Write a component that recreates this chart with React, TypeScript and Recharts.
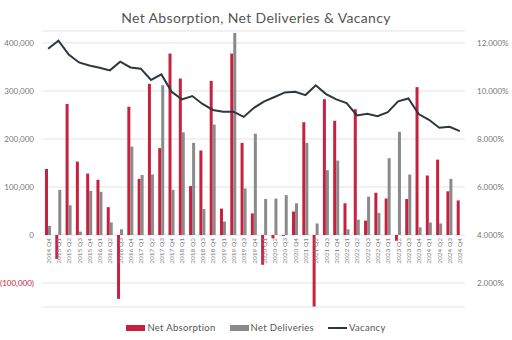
import React from 'react';
import { ComposedChart, Bar, Line, XAxis, YAxis, CartesianGrid } from 'recharts';

const quarters = [
  '2014 Q4',
  '2015 Q1', '2015 Q2', '2015 Q3', '2015 Q4',
  '2016 Q1', '2016 Q2', '2016 Q3', '2016 Q4',
  '2017 Q1', '2017 Q2', '2017 Q3', '2017 Q4',
  '2018 Q1', '2018 Q2', '2018 Q3', '2018 Q4',
  '2019 Q1', '2019 Q2', '2019 Q3', '2019 Q4',
  '2020 Q1', '2020 Q2', '2020 Q3', '2020 Q4',
  '2021 Q1', '2021 Q2', '2021 Q3', '2021 Q4',
  '2022 Q1', '2022 Q2', '2022 Q3', '2022 Q4',
  '2023 Q1', '2023 Q2', '2023 Q3', '2023 Q4',
  '2024 Q1', '2024 Q2', '2024 Q3', '2024 Q4',
];

const netAbsorption = [
  137500,
  -50000, 273000, 153000, 128000,
  115000, 58000, -133000, 267000,
  117000, 315000, 181000, 378000,
  326000, 102000, 176000, 321000,
  55000, 378000, 192000, 45000,
  -62000, -7000, -2000, 49000,
  235000, -149000, 283000, 238000,
  66000, 262000, 30000, 88000,
  76000, -12000, 75000, 308000,
  124000, 157000, 91000, 72000,
];

const netDeliveries = [
  19000,
  94000, 62000, 7000, 92000,
  90000, 26000, 12000, 184000,
  125000, 126000, 312000, 94000,
  214000, 192000, 54000, 230000,
  28000, 421000, 97000, 211000,
  75000, 76000, 83000, 66000,
  192000, 24000, 135000, 155000,
  12000, 32000, 80000, 46000,
  160000, 215000, 126000, 16000,
  26000, 24000, 117000, 0,
];

const vacancy = [
  11.76,
  12.1, 11.52, 11.19, 11.06,
  10.97, 10.86, 11.22, 10.98,
  10.93, 10.46, 10.69, 9.97,
  9.65, 9.79, 9.46, 9.21,
  9.14, 9.14, 8.92, 9.3,
  9.57, 9.75, 9.94, 9.97,
  9.83, 10.24, 9.87, 9.65,
  9.5, 8.98, 9.05, 8.95,
  9.12, 9.57, 9.69, 9.04,
  8.8, 8.47, 8.51, 8.33,
];

const leftTicks = [-100000, 0, 100000, 200000, 300000, 400000];
const rightTicks = [2, 4, 6, 8, 10, 12];

const LEFT_DOMAIN = [-150000, 425000];
const RIGHT_DOMAIN = [1, 12.5];

const W = 512;
const H = 340;
const MARGIN = { top: 31, right: 0, bottom: 32, left: 0 };
const X_AXIS_H = 1;
const PLOT_H = H - MARGIN.top - MARGIN.bottom - X_AXIS_H;
// x labels hang from the zero line, not the plot bottom
const ZERO_Y = MARGIN.top + (PLOT_H * LEFT_DOMAIN[1]) / (LEFT_DOMAIN[1] - LEFT_DOMAIN[0]);

const RED = '#c8203f';
const GRAY = '#8a8a8a';
const LINE = '#2e3740';
const FONT = 'Lato, "Noto Sans", sans-serif';

const data = quarters.map((q, i) => ({
  quarter: q,
  absorption: netAbsorption[i],
  deliveries: netDeliveries[i],
  vacancy: vacancy[i],
}));

const QuarterTick = ({ x, payload }: any) => (
  <text
    transform={`translate(${x + 2.5}, ${ZERO_Y + 3}) rotate(-90)`}
    textAnchor="end"
    fontSize={6.5}
    fill="#808080"
    fontFamily={FONT}
  >
    {payload.value}
  </text>
);

const LeftTick = ({ x, y, payload }: any) => {
  const v = payload.value;
  const neg = v < 0;
  const label = neg ? `(${Math.abs(v).toLocaleString('en-US')})` : v.toLocaleString('en-US');
  return (
    <text x={x} y={y} dy={3} textAnchor="end" fontSize={8} fill={neg ? RED : '#777'} fontFamily={FONT}>
      {label}
    </text>
  );
};

const RightTick = ({ x, y, payload }: any) => (
  <text x={x} y={y} dy={3} textAnchor="start" fontSize={8} fill="#777" fontFamily={FONT}>
    {`${payload.value.toFixed(3)}%`}
  </text>
);

const legendItems = [
  { name: 'Net Absorption', color: RED, type: 'box' },
  { name: 'Net Deliveries', color: GRAY, type: 'box' },
  { name: 'Vacancy', color: LINE, type: 'line' },
];

export default function App() {
  return (
    <div style={{ position: 'absolute', left: 0, top: 0, width: W, height: H, background: '#fff', fontFamily: FONT }}>
      <div
        style={{
          position: 'absolute',
          top: 9,
          left: 0,
          width: W,
          textAlign: 'center',
          fontSize: 14,
          letterSpacing: 0.35,
          color: '#555',
        }}
      >
        Net Absorption, Net Deliveries &amp; Vacancy
      </div>
      <ComposedChart width={W} height={H} data={data} margin={MARGIN} barSize={3} barGap={0}>
        <CartesianGrid yAxisId="left" vertical={false} stroke="#e3e3e3" />
        <XAxis
          dataKey="quarter"
          height={X_AXIS_H}
          interval={0}
          axisLine={false}
          tickLine={false}
          tick={<QuarterTick />}
        />
        <YAxis
          yAxisId="left"
          width={43}
          domain={LEFT_DOMAIN}
          ticks={leftTicks}
          allowDataOverflow
          axisLine={false}
          tickLine={false}
          tickMargin={3}
          tick={<LeftTick />}
        />
        <YAxis
          yAxisId="right"
          orientation="right"
          width={47}
          domain={RIGHT_DOMAIN}
          ticks={rightTicks}
          allowDataOverflow
          axisLine={false}
          tickLine={false}
          tickMargin={6}
          tick={<RightTick />}
        />
        <Bar yAxisId="left" dataKey="absorption" fill={RED} isAnimationActive={false} />
        <Bar yAxisId="left" dataKey="deliveries" fill={GRAY} isAnimationActive={false} />
        <Line
          yAxisId="right"
          dataKey="vacancy"
          type="linear"
          stroke={LINE}
          strokeWidth={2}
          dot={false}
          isAnimationActive={false}
        />
      </ComposedChart>
      <div
        style={{
          position: 'absolute',
          top: 322,
          left: 0,
          width: W,
          display: 'flex',
          justifyContent: 'center',
          gap: 14,
          fontSize: 9.5,
          color: '#555',
          letterSpacing: 0.3,
        }}
      >
        {legendItems.map((it) => (
          <div key={it.name} style={{ display: 'flex', alignItems: 'center' }}>
            <span
              style={{
                display: 'inline-block',
                width: 19,
                height: it.type === 'box' ? 6 : 2,
                background: it.color,
                marginRight: 2,
              }}
            />
            <span>{it.name}</span>
          </div>
        ))}
      </div>
    </div>
  );
}
